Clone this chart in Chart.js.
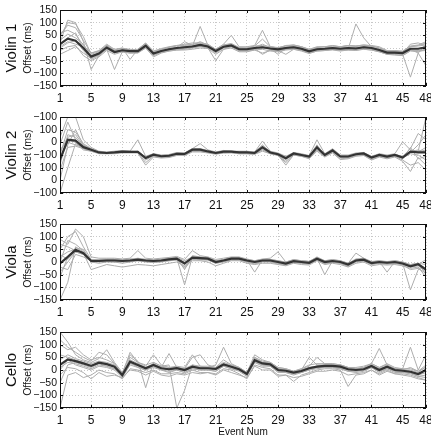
<!DOCTYPE html>
<html>
<head>
<meta charset="utf-8">
<script src="https://cdn.jsdelivr.net/npm/chart.js@4.4.0/dist/chart.umd.min.js"></script>
<style>
  html, body { margin: 0; padding: 0; background: #fff; overflow: hidden; }
  canvas { position: absolute; left: 0; }
</style>
</head>
<body>
<canvas id="c0" width="431" height="107" style="top:0px"></canvas>
<canvas id="c1" width="431" height="107" style="top:107px"></canvas>
<canvas id="c2" width="431" height="107" style="top:214px"></canvas>
<canvas id="c3" width="431" height="120" style="top:321px"></canvas>
<script>
const events = [1,2,3,4,5,6,7,8,9,10,11,12,13,14,15,16,17,18,19,20,21,22,23,24,
                25,26,27,28,29,30,31,32,33,34,35,36,37,38,39,40,41,42,43,44,45,46,47,48];
const xTicks = [1,5,9,13,17,21,25,29,33,37,41,45,48];
const yTicks = [-150,-100,-50,0,50,100,150];
// Violin 2 axis carries odd labels in the original (bottom to top)
const violin2Labels = ['\u2212100','0','100','\u2212100','0','100','\u2212100'];

// ---- Violin 1 ----
const violin1Mean = [15,37,29,0,-34,-22,2,-16,-9,-12,-12,9,
  -22,-12,-5,0,3,6,12,6,-12,5,10,-5,
  -5,0,3,-2,-5,0,3,-3,-13,-5,-3,0,
  -3,0,-2,3,0,-8,-18,-18,-20,-3,-3,3];
const violin1Runs = [
  [45,100,95,45,-25,-15,10,-8,-2,-5,-8,18, -15,-5,2,8,12,15,20,12,-5,12,18,2, 0,8,10,5,2,8,10,5,-8,2,5,8, 5,8,6,10,8,0,-12,-12,-15,5,8,12],
  [20,110,100,25,-85,-30,12,-20,-5,-15,-10,12, -25,-15,-8,-5,0,8,85,10,-18,2,8,-8, -10,-5,0,-5,-10,-5,0,-8,-18,-10,-8,-5, -8,-5,95,40,5,-12,-22,-22,-25,-115,-20,-70],
  [-25,-10,5,-20,-40,-28,-5,-85,-15,-20,-18,0, -30,-18,-12,-8,-5,0,5,0,-50,-5,5,-10, -12,-8,-20,-10,-10,-25,-5,-10,-20,-12,-10,-5, -10,-8,-8,-5,-8,-15,-25,-25,-30,-10,-15,-5],
  [60,70,55,10,-20,-10,15,-5,0,-45,-5,20, -12,-2,5,10,15,20,20,15,-5,15,50,5, 5,10,70,5,0,10,12,5,-5,2,5,10, 5,10,8,12,10,5,-10,-12,-15,5,10,20],
  [0,20,30,-10,-45,-30,-5,-20,-12,-15,-15,5, -28,-15,-10,-5,-2,2,8,2,-20,0,5,-12, -10,-2,-25,-8,-12,-5,-2,-8,-15,-8,-8,-5, -8,-5,-5,0,-5,-12,-22,-22,-25,-8,-10,-5],
  [30,55,40,15,-30,-20,8,-12,-8,-10,-12,10, -20,-10,-3,3,25,10,15,8,-10,8,12,-3, -3,3,15,2,-3,3,8,0,-10,-3,0,3, 0,3,2,5,3,-5,-15,-15,-20,15,20,10],
  [10,40,60,-5,-35,-25,0,-18,-10,-12,-14,8, -24,-12,-6,0,5,5,10,5,-15,5,8,-5, -8,0,3,-3,-25,0,5,-3,-15,-5,-5,0, -3,0,-2,3,0,-10,-20,-20,-22,-5,-20,15],
  [-10,5,10,-30,-50,-35,-10,-25,-15,-20,-20,0, -35,-20,-12,-8,-8,-5,0,-2,-25,-5,0,-15, -15,-8,-5,-12,-15,-8,-5,-12,-22,-12,-10,-8, -12,-8,-10,-5,-8,-15,-25,-28,-30,-12,-12,-10],
  [50,90,80,30,-20,-12,10,-10,0,-8,-5,18, -15,-5,3,10,10,12,25,12,-5,12,15,0, 0,8,35,5,0,8,12,5,-5,5,5,8, 5,10,8,12,8,0,-12,-10,-12,8,12,25],
  [5,25,15,5,-30,-22,3,-15,-8,-10,-10,10, -20,-10,-5,2,5,8,12,8,-12,5,10,-5, -3,2,5,0,-5,2,5,-2,-12,-5,-2,2, -2,2,0,5,2,-8,-18,-18,-20,-3,-3,5]
];

// ---- Violin 2 ----
const violin2Mean = [-18,60,57,31,21,10,8,10,13,12,12,-12,
  1,-5,-3,5,4,21,21,14,8,13,13,10,
  10,8,30,10,3,-13,6,0,-6,30,0,18,
  -6,-6,3,6,-10,0,-6,0,-10,13,10,10];
const violin2Runs = [
  [-150,-50,45,30,20,10,8,12,15,12,10,-15, 0,-5,-3,5,5,20,22,15,10,15,12,10, 10,8,35,12,5,-15,8,2,-5,35,2,20, -5,-5,5,8,-10,2,-5,2,-8,15,12,30],
  [70,150,150,60,30,15,12,15,18,15,60,-5, 5,0,2,10,8,25,45,20,12,18,15,15, 15,12,55,15,8,-5,10,5,-2,60,5,25, 0,0,8,10,-5,5,0,5,52,20,15,150],
  [-100,40,100,40,25,12,10,12,15,12,15,-10, 3,-3,0,8,5,22,25,15,10,15,15,12, 12,10,40,12,5,-10,8,2,-5,40,0,22, -3,-5,5,8,-8,2,-5,2,-5,25,85,60],
  [-40,80,70,35,20,8,5,8,10,10,10,-30, -5,-10,-8,0,0,15,15,10,5,8,10,5, 5,3,20,5,0,-40,0,-5,-12,20,-5,10, -15,-12,-2,0,-18,-5,-12,-5,-20,-40,-30,-60],
  [0,100,90,45,25,12,10,12,15,15,14,-8, 5,-2,0,8,8,25,25,18,10,15,15,12, 12,10,35,12,5,-12,8,3,-3,35,3,20, -3,-3,5,8,-8,3,-3,3,-8,15,12,20],
  [20,60,50,20,15,5,5,5,8,8,8,-40, -8,-12,-10,-2,-2,12,12,8,3,8,8,5, 5,3,15,5,-2,-30,0,-5,-15,15,-8,8, -18,-15,-5,-2,-20,-8,-15,-8,-25,-65,-10,-40],
  [40,130,60,25,18,10,6,10,12,10,12,-15, 0,-5,-5,3,3,18,18,12,6,12,12,8, 8,6,28,8,0,-18,5,-2,-8,28,-3,15, -8,-8,0,3,-12,-2,-8,-2,-12,5,0,-20],
  [-20,50,40,28,22,12,10,12,14,14,14,-10, 3,-3,-2,6,6,22,20,14,10,14,14,12, 12,10,30,10,5,-8,6,2,-4,30,2,18, -4,-4,4,6,-8,2,-4,2,-8,10,40,80],
  [-60,30,35,25,15,8,6,8,10,10,10,-20, -3,-8,-5,2,0,15,15,10,5,10,10,8, 8,5,22,8,0,-25,2,-3,-10,22,-5,12, -10,-10,-2,2,-15,-3,-10,-3,-15,30,-15,-5],
  [10,70,80,38,22,10,8,10,12,12,12,-12, 2,-5,-2,5,5,20,20,14,8,13,13,10, 10,8,30,10,3,-14,6,0,-6,32,0,18, -6,-6,3,6,-10,0,-6,0,-10,13,20,10]
];

// ---- Viola ----
const violaMean = [-6,20,48,35,4,4,6,6,4,6,9,6,
  4,6,10,13,-6,17,15,13,0,6,13,13,
  6,0,6,6,0,-6,3,0,-3,13,0,4,
  0,-10,6,9,-4,0,-3,0,-6,-17,-9,-30];
const violaRuns = [
  [-150,-80,60,40,5,5,8,8,5,8,10,8, 5,8,12,15,-90,20,18,15,2,8,15,15, 8,-40,8,8,2,-5,5,2,0,15,-50,5, 2,-8,8,10,-2,2,-40,2,-5,-110,-30,-20],
  [90,70,130,100,20,15,15,15,12,15,45,15, 12,15,18,22,10,45,25,20,10,15,20,20, 12,5,12,15,40,0,10,5,2,20,5,10, 5,-5,35,15,2,5,2,5,0,-10,-5,-30],
  [50,100,120,60,10,10,10,12,8,10,15,10, 8,10,15,18,-30,25,20,18,5,10,18,18, 10,3,10,10,5,-2,8,5,2,18,3,8, 3,-8,10,12,0,3,0,3,-3,-15,-5,-50],
  [-40,0,40,30,0,0,2,0,0,2,5,2, 0,2,5,8,-20,12,10,8,-5,2,8,8, 2,-5,2,2,-5,-10,0,-5,-8,8,-5,0, -5,-15,2,5,-8,-5,-8,-5,-10,-20,-15,-40],
  [20,40,50,35,-30,-20,-10,-15,-20,-15,-10,-12, -15,-10,-5,0,-15,5,5,0,-15,-5,5,5, -5,-10,-5,-5,-10,-15,-5,-10,-12,5,-10,-5, -10,-20,-5,0,-15,-10,-12,-10,-15,-25,-20,-60],
  [-20,-30,30,20,5,5,5,5,5,5,8,5, 5,5,10,12,0,15,15,12,0,5,12,12, 5,0,5,5,0,-5,2,0,-2,12,0,5, 0,-10,5,8,-3,0,-2,0,-5,-15,-10,10],
  [70,60,45,40,10,8,10,10,8,10,12,10, 8,10,12,15,-10,18,18,15,2,8,15,15, 8,2,8,8,2,-3,5,2,0,15,2,5, 2,-5,8,10,-2,2,0,2,-3,-12,-8,-25],
  [-60,20,55,50,0,-5,0,0,-5,0,5,0, -2,0,5,8,-25,10,8,8,-5,0,8,8, 0,-8,0,0,-8,-12,-3,-5,-8,8,-8,-2, -5,-18,0,3,-10,-5,-8,-5,-12,-30,-25,-45],
  [0,85,70,45,8,10,12,10,10,12,12,10, 8,12,15,18,5,20,18,16,5,10,18,15, 10,5,10,10,5,0,8,5,2,15,5,8, 5,-5,12,15,0,5,0,5,0,-10,-5,-10],
  [30,10,40,30,2,2,4,5,2,5,8,5, 2,5,8,12,-8,15,12,12,-2,5,12,12, 5,-2,5,5,-2,-8,2,-2,-5,12,-2,2, -2,-12,5,8,-5,-2,-5,-2,-8,-18,-10,-35]
];

// ---- Cello ----
const celloMean = [20,42,35,26,16,29,23,13,-20,33,20,7,
  20,7,3,7,0,13,7,7,4,22,13,3,
  -16,39,26,22,0,-3,-10,-4,7,13,16,16,
  13,3,0,3,16,0,13,0,-3,-7,-16,0];
const celloRuns = [
  [150,110,60,40,30,45,80,30,-10,60,35,-70, 30,15,20,-150,-80,20,15,10,20,90,25,10, -10,50,35,30,10,5,-5,5,20,25,25,25, 20,10,10,15,25,10,25,10,5,5,-5,10],
  [-150,-20,-10,-30,-20,0,-10,-15,-35,5,0,-10, 0,-15,-15,-10,-15,0,-10,-10,-15,5,0,-15, -35,20,10,5,-20,-20,-45,-20,-10,0,5,5, 0,-65,-20,-15,0,-15,0,-15,-20,-25,-35,-40],
  [100,80,90,60,40,50,40,25,-15,70,30,20, 30,15,10,15,10,60,15,15,10,40,20,10, -10,60,40,30,10,5,-5,5,15,50,25,25, 20,10,5,10,25,85,20,5,5,90,0,60],
  [0,40,20,10,0,15,10,0,-30,20,10,0, 10,0,-10,0,-10,5,0,0,-5,15,5,-5, -25,30,15,15,-10,-10,-20,-10,0,5,10,10, 5,-5,-10,-5,10,-10,5,-10,-10,-15,-25,-20],
  [40,60,45,35,25,35,30,20,-20,40,25,10, 25,10,65,10,5,20,10,10,8,25,15,5, -15,45,30,25,5,0,-5,0,10,15,20,20, 15,5,5,5,20,5,15,5,0,0,-10,15],
  [-50,20,30,20,10,25,15,5,-25,25,15,5, 15,5,0,5,-5,10,5,5,0,20,10,0, -20,35,20,20,-5,-8,-15,-8,5,10,12,12, 10,0,-5,0,12,-5,10,-5,-8,-12,-20,-10],
  [120,90,70,50,35,70,60,25,-20,50,30,15, 60,20,10,10,5,50,60,20,10,30,20,10, -10,50,30,30,5,0,-5,0,50,20,20,20, 20,10,5,10,25,10,20,5,0,10,-5,20],
  [10,30,25,15,5,20,15,5,-25,30,10,0, 15,0,-5,0,-10,5,0,0,-5,15,5,0, -20,30,20,15,-5,-10,-15,-10,0,10,10,10, 5,-5,-5,0,10,-5,5,-5,-10,-10,-25,-30],
  [60,50,40,30,20,30,25,15,-10,35,20,10, 20,10,5,10,0,15,10,10,5,25,15,5, -15,40,25,25,5,0,-10,0,10,15,15,15, 15,5,0,5,15,5,15,5,0,-5,-15,5],
  [-20,10,5,-10,-35,-10,-25,-20,-30,0,-5,-20, -5,-20,-25,-15,-20,-10,-15,-10,-20,0,-10,-20, -30,15,0,0,-25,-20,-30,-25,-15,-5,-5,0, -5,-20,-15,-10,0,-20,-5,-15,-15,-20,-30,-40]
];

Chart.defaults.font.family = '"Liberation Sans", Arial, Helvetica, sans-serif';
Chart.defaults.color = '#111';

// axis box, inward tick marks and the instrument name on the left
const framePlugin = {
  id: 'frame',
  afterDraw(chart, args, opts) {
    const { ctx, chartArea: a, scales } = chart;
    ctx.save();
    ctx.strokeStyle = '#111';
    ctx.lineWidth = 1;
    ctx.strokeRect(a.left + 0.5, a.top + 0.5, a.right - a.left - 1, a.bottom - a.top - 1);
    ctx.beginPath();
    xTicks.forEach(v => {
      const px = Math.round(scales.x.getPixelForValue(v)) + 0.5;
      ctx.moveTo(px, a.bottom); ctx.lineTo(px, a.bottom - 3);
      ctx.moveTo(px, a.top); ctx.lineTo(px, a.top + 3);
    });
    yTicks.forEach(v => {
      const py = Math.round(scales.y.getPixelForValue(v)) + 0.5;
      ctx.moveTo(a.left, py); ctx.lineTo(a.left + 3, py);
      ctx.moveTo(a.right, py); ctx.lineTo(a.right - 3, py);
    });
    ctx.stroke();
    ctx.translate(12, (a.top + a.bottom) / 2);
    ctx.rotate(-Math.PI / 2);
    ctx.font = '15px "Liberation Sans", Arial, sans-serif';
    ctx.fillStyle = '#111';
    ctx.textAlign = 'center';
    ctx.textBaseline = 'middle';
    ctx.fillText(opts.name, 0, 0);
    ctx.restore();
  }
};

function points(vals) {
  return vals.map((v, i) => ({ x: events[i], y: v }));
}

function makePanel(id, name, mean, runs, labels, padTop, xHeight, showTitle) {
  const datasets = [{ data: points(mean), borderColor: '#333333', borderWidth: 2.2 }];
  runs.forEach(r => datasets.push({ data: points(r), borderColor: '#adadad', borderWidth: 1 }));
  const gridStyle = { color: '#c8c8c8', drawTicks: false };
  new Chart(document.getElementById(id), {
    type: 'line',
    data: { datasets },
    options: {
      responsive: false,
      animation: false,
      events: [],
      elements: { point: { radius: 0 }, line: { tension: 0 } },
      layout: { padding: { left: 20, right: 5, top: padTop, bottom: 0 } },
      plugins: { legend: { display: false }, tooltip: { enabled: false }, frame: { name } },
      scales: {
        x: {
          type: 'linear', min: 1, max: 48,
          afterBuildTicks: s => { s.ticks = xTicks.map(v => ({ value: v })); },
          afterFit: s => { s.height = xHeight; s.paddingLeft = 0; s.paddingRight = 0; },
          grid: gridStyle,
          border: { display: false, dash: [1, 2] },
          ticks: { padding: 5, font: { size: 12 }, maxRotation: 0, autoSkip: false },
          title: { display: showTitle, text: 'Event Num', font: { size: 10 }, padding: { top: 0, bottom: 3 } }
        },
        y: {
          min: -150, max: 150,
          afterBuildTicks: s => { s.ticks = yTicks.map(v => ({ value: v })); },
          afterFit: s => { s.width = 40; },
          grid: gridStyle,
          border: { display: false, dash: [1, 2] },
          ticks: {
            padding: 3, font: { size: 10.5 }, autoSkip: false,
            callback: (v, i) => labels ? labels[i] : String(v).replace('-', '\u2212')
          },
          title: { display: true, text: 'Offset (ms)', font: { size: 10.5 }, padding: { top: 2, bottom: 0 } }
        }
      }
    },
    plugins: [framePlugin]
  });
}

makePanel('c0', 'Violin 1', violin1Mean, violin1Runs, null, 10, 21, false);
makePanel('c1', 'Violin 2', violin2Mean, violin2Runs, violin2Labels, 10, 21, false);
makePanel('c2', 'Viola', violaMean, violaRuns, null, 10, 21, false);
makePanel('c3', 'Cello', celloMean, celloRuns, null, 11, 33, true);
</script>
</body>
</html>
